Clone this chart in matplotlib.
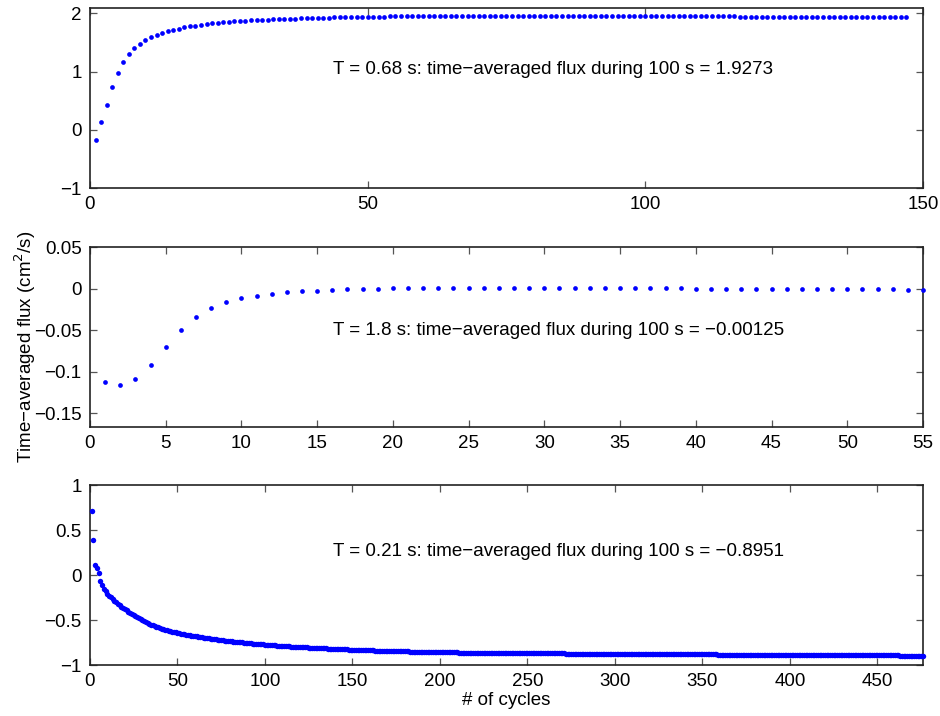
import matplotlib
matplotlib.use("Agg")
import matplotlib.pyplot as plt
from matplotlib.ticker import FuncFormatter

plt.rcParams['font.family'] = ['Liberation Sans', 'DejaVu Sans']
plt.rcParams['font.size'] = 13.5

# time-averaged flux after each cycle, three forcing periods
flux_068 = [
    -0.18, 0.13, 0.43, 0.73, 0.98, 1.17, 1.30, 1.40, 1.48, 1.54,
    1.585, 1.625, 1.66, 1.69, 1.715, 1.737, 1.757, 1.774, 1.789, 1.802,
    1.814, 1.825, 1.835, 1.844, 1.852, 1.859, 1.866, 1.872, 1.877, 1.882,
    1.887, 1.891, 1.895, 1.899, 1.903, 1.906, 1.909, 1.912, 1.915, 1.918,
    1.921, 1.924, 1.926, 1.929, 1.931, 1.933, 1.935, 1.937, 1.939, 1.941,
    1.942, 1.943, 1.944, 1.945, 1.946, 1.947, 1.948, 1.949, 1.950, 1.951,
    1.952, 1.952, 1.953, 1.953, 1.954, 1.954, 1.955, 1.955, 1.956, 1.956,
    1.957, 1.957, 1.957, 1.958, 1.958, 1.958, 1.958, 1.959, 1.959, 1.959,
    1.959, 1.959, 1.959, 1.959, 1.959, 1.959, 1.959, 1.959, 1.958, 1.958,
    1.958, 1.958, 1.957, 1.957, 1.957, 1.956, 1.956, 1.955, 1.955, 1.954,
    1.954, 1.953, 1.953, 1.952, 1.952, 1.951, 1.950, 1.950, 1.949, 1.949,
    1.948, 1.947, 1.947, 1.946, 1.946, 1.945, 1.944, 1.944, 1.943, 1.942,
    1.942, 1.941, 1.940, 1.940, 1.939, 1.938, 1.938, 1.937, 1.936, 1.936,
    1.935, 1.934, 1.934, 1.933, 1.933, 1.932, 1.932, 1.931, 1.931, 1.930,
    1.930, 1.929, 1.929, 1.928, 1.928, 1.9275, 1.9273,
]

flux_18 = [
    -0.1124, -0.1165, -0.1084, -0.0916, -0.0699, -0.0498, -0.0345, -0.0237, -0.0165, -0.0116,
    -0.0084, -0.0060, -0.0044, -0.0032, -0.0024, -0.0016, -0.0008, -0.0004, 0.0000, 0.0002,
    0.0004, 0.0006, 0.0007, 0.0008, 0.0009, 0.0009, 0.0010, 0.0010, 0.0009, 0.0009,
    0.0008, 0.0008, 0.0007, 0.0006, 0.0005, 0.0004, 0.0003, 0.0002, 0.0001, 0.0000,
    -0.0001, -0.0002, -0.0003, -0.0004, -0.0005, -0.0006, -0.0007, -0.0008, -0.0008, -0.0009,
    -0.0010, -0.0010, -0.0011, -0.0012, -0.00125,
]

flux_021 = [
    0.711, 0.389, 0.111, 0.074, 0.026, -0.063, -0.110, -0.150, -0.182, -0.208,
    -0.229, -0.249, -0.268, -0.286, -0.303, -0.320, -0.336, -0.351, -0.366, -0.380,
    -0.394, -0.408, -0.421, -0.434, -0.446, -0.458, -0.470, -0.482, -0.493, -0.504,
    -0.514, -0.524, -0.533, -0.542, -0.551, -0.559, -0.567, -0.575, -0.582, -0.589,
    -0.596, -0.602, -0.608, -0.614, -0.619, -0.624, -0.629, -0.634, -0.638, -0.642,
    -0.646, -0.650, -0.654, -0.658, -0.662, -0.666, -0.670, -0.674, -0.677, -0.680,
    -0.683, -0.686, -0.689, -0.692, -0.695, -0.698, -0.701, -0.704, -0.707, -0.710,
    -0.713, -0.716, -0.719, -0.722, -0.725, -0.727, -0.729, -0.731, -0.733, -0.735,
    -0.737, -0.739, -0.741, -0.743, -0.745, -0.747, -0.749, -0.751, -0.753, -0.755,
    -0.757, -0.759, -0.761, -0.763, -0.765, -0.767, -0.769, -0.770, -0.771, -0.772,
    -0.774, -0.776, -0.778, -0.780, -0.782, -0.783, -0.784, -0.785, -0.786, -0.787,
    -0.789, -0.791, -0.793, -0.794, -0.795, -0.796, -0.797, -0.798, -0.799, -0.800,
    -0.802, -0.803, -0.804, -0.805, -0.806, -0.807, -0.808, -0.809, -0.810, -0.811,
    -0.812, -0.813, -0.814, -0.815, -0.816, -0.817, -0.818, -0.819, -0.820, -0.821,
    -0.822, -0.823, -0.824, -0.825, -0.826, -0.826, -0.827, -0.828, -0.829, -0.830,
    -0.831, -0.832, -0.832, -0.833, -0.834, -0.834, -0.835, -0.836, -0.836, -0.837,
    -0.838, -0.838, -0.839, -0.839, -0.840, -0.841, -0.841, -0.842, -0.842, -0.843,
    -0.844, -0.844, -0.845, -0.845, -0.846, -0.846, -0.847, -0.847, -0.848, -0.848,
    -0.849, -0.849, -0.850, -0.850, -0.851, -0.851, -0.852, -0.852, -0.853, -0.853,
    -0.854, -0.854, -0.855, -0.855, -0.856, -0.856, -0.857, -0.857, -0.857, -0.858,
    -0.859, -0.859, -0.859, -0.859, -0.859, -0.860, -0.860, -0.860, -0.860, -0.860,
    -0.861, -0.861, -0.861, -0.861, -0.861, -0.862, -0.862, -0.862, -0.862, -0.862,
    -0.863, -0.863, -0.863, -0.863, -0.863, -0.864, -0.864, -0.864, -0.864, -0.864,
    -0.865, -0.865, -0.865, -0.865, -0.865, -0.866, -0.866, -0.866, -0.866, -0.866,
    -0.867, -0.867, -0.867, -0.867, -0.867, -0.868, -0.868, -0.868, -0.868, -0.868,
    -0.869, -0.869, -0.869, -0.869, -0.869, -0.869, -0.869, -0.870, -0.870, -0.870,
    -0.870, -0.870, -0.870, -0.870, -0.871, -0.871, -0.871, -0.871, -0.871, -0.871,
    -0.871, -0.872, -0.872, -0.872, -0.872, -0.872, -0.872, -0.872, -0.873, -0.873,
    -0.873, -0.873, -0.873, -0.873, -0.873, -0.874, -0.874, -0.874, -0.874, -0.874,
    -0.874, -0.874, -0.875, -0.875, -0.875, -0.875, -0.875, -0.875, -0.875, -0.875,
    -0.876, -0.876, -0.876, -0.876, -0.876, -0.876, -0.876, -0.877, -0.877, -0.877,
    -0.877, -0.877, -0.877, -0.877, -0.878, -0.878, -0.878, -0.878, -0.878, -0.878,
    -0.878, -0.879, -0.879, -0.879, -0.879, -0.879, -0.879, -0.879, -0.880, -0.880,
    -0.880, -0.880, -0.880, -0.880, -0.880, -0.881, -0.881, -0.881, -0.881, -0.881,
    -0.881, -0.881, -0.882, -0.882, -0.882, -0.882, -0.882, -0.882, -0.882, -0.882,
    -0.883, -0.883, -0.883, -0.883, -0.883, -0.883, -0.883, -0.883, -0.884, -0.884,
    -0.884, -0.884, -0.884, -0.884, -0.884, -0.884, -0.885, -0.885, -0.885, -0.885,
    -0.885, -0.885, -0.885, -0.885, -0.886, -0.886, -0.886, -0.886, -0.886, -0.886,
    -0.886, -0.886, -0.887, -0.887, -0.887, -0.887, -0.887, -0.887, -0.887, -0.887,
    -0.887, -0.888, -0.888, -0.888, -0.888, -0.888, -0.888, -0.888, -0.888, -0.888,
    -0.889, -0.889, -0.889, -0.889, -0.889, -0.889, -0.889, -0.889, -0.889, -0.889,
    -0.890, -0.890, -0.890, -0.890, -0.890, -0.890, -0.890, -0.890, -0.890, -0.890,
    -0.891, -0.891, -0.891, -0.891, -0.891, -0.891, -0.891, -0.891, -0.891, -0.891,
    -0.892, -0.892, -0.892, -0.892, -0.892, -0.892, -0.892, -0.892, -0.892, -0.892,
    -0.893, -0.893, -0.893, -0.893, -0.893, -0.893, -0.893, -0.893, -0.893, -0.893,
    -0.894, -0.894, -0.894, -0.894, -0.894, -0.894, -0.894, -0.894, -0.894, -0.894,
    -0.894, -0.894, -0.895, -0.895, -0.895, -0.895, -0.895, -0.895, -0.895, -0.895,
    -0.895, -0.895, -0.895, -0.895, -0.895, -0.8951,
]

labels = [
    "T = 0.68 s: time\u2212averaged flux during 100 s = 1.9273",
    "T = 1.8 s: time\u2212averaged flux during 100 s = \u22120.00125",
    "T = 0.21 s: time\u2212averaged flux during 100 s = \u22120.8951",
]
xlims = [(0, 150), (0, 55), (0, 476)]
ylims = [(-1, 2.09), (-0.1667, 0.05), (-1, 1)]
xticks = [[0, 50, 100, 150], list(range(0, 56, 5)), list(range(0, 451, 50))]
yticks = [[-1, 0, 1, 2], [-0.15, -0.1, -0.05, 0, 0.05], [-1, -0.5, 0, 0.5, 1]]
text_y = [0.656, 0.536, 0.628]
marker_size = [3.4, 3.4, 3.9]

fmt = FuncFormatter(lambda v, p: ('%g' % round(v, 4)).replace('-', '\u2212'))

fig = plt.figure(figsize=(9.4, 7.16), dpi=100)
bottoms = [0.7374, 0.4036, 0.0712]
series = [flux_068, flux_18, flux_021]

for i, data in enumerate(series):
    ax = fig.add_axes([0.0957, bottoms[i], 0.8862, 0.2514])
    cycles = list(range(1, len(data) + 1))
    ax.scatter(cycles, data, s=marker_size[i] ** 2, c='#0000ff',
               linewidths=0, clip_on=False, zorder=3)
    ax.set_xlim(*xlims[i])
    ax.set_ylim(*ylims[i])
    ax.set_xticks(xticks[i])
    ax.set_yticks(yticks[i])
    ax.xaxis.set_major_formatter(fmt)
    ax.yaxis.set_major_formatter(fmt)
    ax.tick_params(direction='in', top=True, right=True, length=5,
                   width=0.9, color='#555555', pad=6, labelsize=13.5)
    for s in ax.spines.values():
        s.set_linewidth(1.2)
        s.set_color('#222222')
    ax.text(0.2917, text_y[i], labels[i], transform=ax.transAxes,
            va='center', ha='left', fontsize=13.5)
    if i == 2:
        ax.set_xlabel('# of cycles', fontsize=13.5, labelpad=1)

fig.text(0.027, 0.515, 'Time\u2212averaged flux (cm$^2$/s)', rotation=90,
         ha='center', va='center', fontsize=13.5)

fig.savefig('out.png', dpi=100)
